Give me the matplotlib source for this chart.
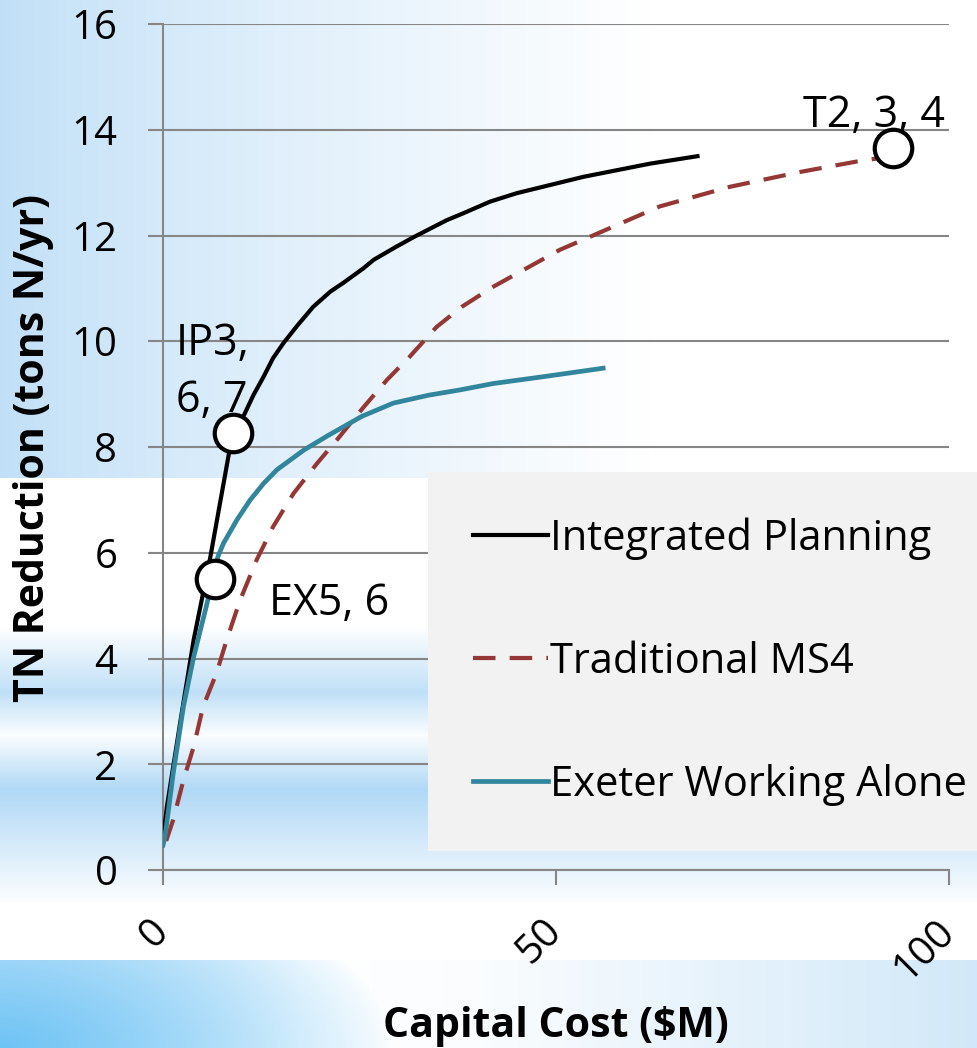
import matplotlib

matplotlib.use("Agg")

import matplotlib.pyplot as plt
from matplotlib.transforms import ScaledTranslation
import numpy as np

# --- Fonts / sizes ---
plt.rcParams['font.family'] = ['Open Sans', 'DejaVu Sans']
FS_TICK = 29
FS_LEGEND = 30
FS_NOTE = 31
FS_AXIS = 29.5
GRID_COLOR = '#868686'

# --- Data ---
ip_x = [0.05, 0.5, 2.2, 3.9, 6.0, 8.85, 10.2, 11.5, 12.8, 14.0, 15.3, 17.0,
        19.1, 21.3, 22.9, 25.5, 26.8, 29.7, 31.9, 34.0, 36.1, 38.2, 41.6, 45.0,
        53.5, 62.0, 68.0]
ip_y = [0.65, 1.2, 2.8, 4.35, 5.9, 8.26, 8.57, 8.98, 9.33, 9.68, 9.96, 10.28,
        10.65, 10.94, 11.1, 11.38, 11.54, 11.79, 11.97, 12.13, 12.29, 12.42,
        12.64, 12.8, 13.11, 13.36, 13.5]

trad_x = [0.4, 1.3, 2.6, 3.9, 5.1, 6.8, 8.1, 9.8, 11.9, 14.0, 16.6, 19.6, 22.1,
          25.5, 28.5, 31.4, 34.8, 38.0, 42.0, 50.5, 54.7, 63.2, 72.1, 81.0,
          88.3, 91.0]
trad_y = [0.55, 0.95, 1.7, 2.33, 3.09, 3.72, 4.35, 5.1, 5.86, 6.49, 7.12, 7.69,
          8.13, 8.75, 9.27, 9.71, 10.27, 10.65, 11.03, 11.73, 12.0, 12.55,
          12.92, 13.2, 13.4, 13.46]

ex_x = [0.0, 0.25, 1.3, 2.6, 3.9, 5.5, 6.2, 7.0, 7.7, 9.4, 11.1, 12.8, 14.5,
        17.9, 20.8, 25.3, 29.3, 33.8, 37.8, 42.0, 48.4, 56.0]
ex_y = [0.47, 0.63, 1.83, 3.09, 4.03, 4.98, 5.42, 5.93, 6.18, 6.62, 7.0, 7.31,
        7.57, 7.94, 8.2, 8.58, 8.83, 8.98, 9.08, 9.2, 9.33, 9.49]

series_names = ['Integrated Planning', 'Traditional MS4', 'Exeter Working Alone']

point_x = [8.85, 6.6, 92.9]
point_y = [8.26, 5.51, 13.65]
point_labels = ['IP3,\n6, 7', 'EX5, 6', 'T2, 3, 4']

y_ticks = [0, 2, 4, 6, 8, 10, 12, 14, 16]
x_ticks = [0, 50, 100]

# --- Background (slide-like gradient) ---
W, H = 977, 1048
xx, yy = np.meshgrid(np.arange(W), np.arange(H))
bg = np.ones((H, W, 3))
white = np.array([1.0, 1.0, 1.0])

# top band: light blue on the left fading to white
top_blue = np.array([192, 223, 247]) / 255
t = np.clip(xx / 650.0, 0, 1) ** 0.8
top_img = top_blue * (1 - t[..., None]) + white * t[..., None]

# middle band: horizontal stripes of light blue
mid_blue = np.array([176, 216, 245]) / 255
prof_y = [478, 626, 692, 735, 789, 905, 960]
prof_b = [0.0, 0.0, 0.8, 0.05, 1.0, 0.0, 0.0]
b = np.interp(yy, prof_y, prof_b)
mid_img = mid_blue * b[..., None] + white * (1 - b[..., None])

# bottom band: bright blue glare bottom-left, whitish streak, light blue right
low_blue = np.array([205, 230, 248]) / 255
corner = np.array([110, 195, 245]) / 255
h = np.interp(xx, [0, 300, 480, 977], [0.6, 0.0, 0.1, 0.9])
bot_img = low_blue * h[..., None] + white * (1 - h[..., None])
r = np.sqrt((xx / 1.3) ** 2 + ((yy - 1048) * 1.6) ** 2)
c = np.clip(1 - r / 300.0, 0, 1) ** 0.8
bot_img = corner * c[..., None] + bot_img * (1 - c[..., None])

bg[:478] = top_img[:478]
bg[478:960] = mid_img[478:960]
bg[960:] = bot_img[960:]

# --- Figure ---
fig = plt.figure(figsize=(W / 100, H / 100), dpi=100)
bg_ax = fig.add_axes([0, 0, 1, 1], zorder=-10)
bg_ax.imshow(bg, aspect='auto', extent=[0, 1, 0, 1], interpolation='bilinear')
bg_ax.axis('off')

ax = fig.add_axes([163 / W, 1 - 870 / H, (949 - 163) / W, (870 - 24) / H])
ax.patch.set_alpha(0)

l1, = ax.plot(ip_x, ip_y, color='black', lw=3.0, solid_joinstyle='round',
              label=series_names[0], zorder=3)
l2, = ax.plot(trad_x, trad_y, color='#953735', lw=3.0, linestyle=(0, (5.4, 3.4)),
              label=series_names[1], zorder=3)
l3, = ax.plot(ex_x, ex_y, color='#31859C', lw=3.4, solid_joinstyle='round',
              label=series_names[2], zorder=3)

ax.plot(point_x, point_y, linestyle='none', marker='o', markersize=27,
        markerfacecolor='white', markeredgecolor='black', markeredgewidth=3.0,
        zorder=5)

label_offsets = [(-41, 15), (39, -26), (-65, 15)]
for px, py, lab, off in zip(point_x, point_y, point_labels, label_offsets):
    ax.annotate(lab, (px, py), xytext=off, textcoords='offset points',
                ha='left', va='baseline', fontsize=FS_NOTE, linespacing=1.4, zorder=6)

ax.set_xlim(0, 100)
ax.set_ylim(0, 16)
ax.set_yticks(y_ticks)
ax.set_xticks(x_ticks)
ax.set_xticklabels([str(v) for v in x_ticks], rotation=45, ha='right', va='top')
ax.tick_params(axis='both', colors=GRID_COLOR, labelcolor='black', labelsize=FS_TICK,
               length=10.8, width=1.5, direction='out')
ax.tick_params(axis='y', pad=22)
ax.tick_params(axis='x', pad=16)
shift = ScaledTranslation(10 / 72, -3 / 72, fig.dpi_scale_trans)
for lab in ax.get_xticklabels():
    lab.set_transform(lab.get_transform() + shift)

ax.grid(True, axis='y', color=GRID_COLOR, lw=1.5)
ax.set_axisbelow(True)
for side in ['top', 'right']:
    ax.spines[side].set_visible(False)
for side in ['left', 'bottom']:
    ax.spines[side].set_color(GRID_COLOR)
    ax.spines[side].set_linewidth(1.5)

fig.text(556 / W, 11 / H, 'Capital Cost ($M)', ha='center', va='baseline',
         fontsize=FS_AXIS, fontweight='bold')
fig.text(34 / W, 1 - 448 / H, 'TN Reduction (tons N/yr)', ha='center', va='center',
         rotation=90, fontsize=FS_AXIS, fontweight='bold')

leg = fig.legend(handles=[l1, l2, l3], loc='upper left',
                 bbox_to_anchor=(428 / W, 1 - 472 / H), bbox_transform=fig.transFigure,
                 borderaxespad=0, fontsize=FS_LEGEND, frameon=True, fancybox=False,
                 facecolor='#F2F2F2', edgecolor='none', framealpha=1,
                 handlelength=1.8, handletextpad=0.05, labelspacing=1.95,
                 borderpad=1.08)

fig.savefig('out.png', dpi=100)
